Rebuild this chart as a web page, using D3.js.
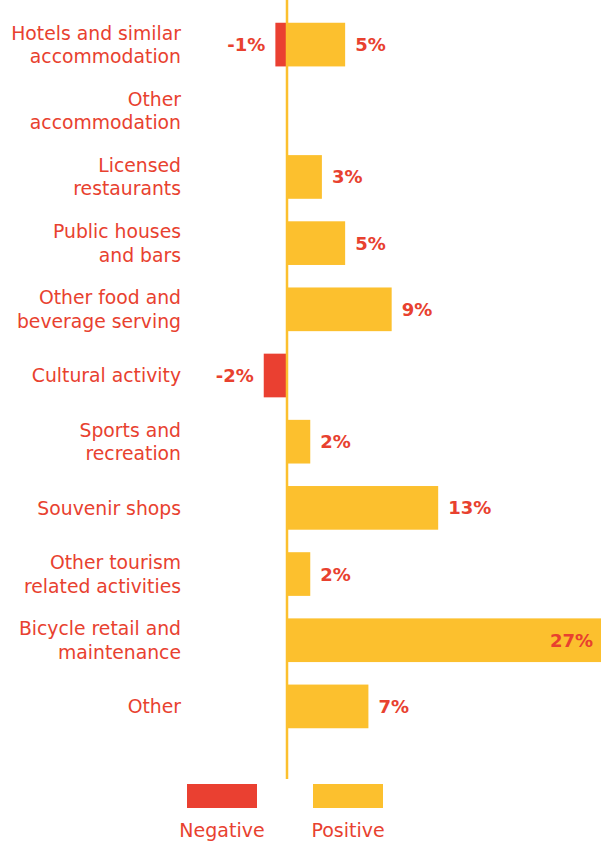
<!DOCTYPE html>
<html>
<head>
<meta charset="utf-8">
<script src="https://cdn.jsdelivr.net/npm/d3@7"></script>
<style>
  html, body { margin: 0; padding: 0; background: #fff; }
  svg { display: block; }
  text { font-family: "DejaVu Sans", sans-serif; }
</style>
</head>
<body>
<svg id="chart" width="601" height="841"></svg>
<script>
// Categories (line breaks mark label wrapping)
const categories = [
  "Hotels and similar\naccommodation",
  "Other\naccommodation",
  "Licensed\nrestaurants",
  "Public houses\nand bars",
  "Other food and\nbeverage serving",
  "Cultural activity",
  "Sports and\nrecreation",
  "Souvenir shops",
  "Other tourism\nrelated activities",
  "Bicycle retail and\nmaintenance",
  "Other"
];
// Share of businesses reporting a negative / positive change (%)
const negativeValues = [-1, null, null, null, null, -2, null, null, null, null, null];
const positiveValues = [5, null, 3, 5, 9, null, 2, 13, 2, 27, 7];
const legendLabels = ["Negative", "Positive"];

const RED = "#EA4031";
const YELLOW = "#FCC02E";
const TEXT = "#E8412F";

const svg = d3.select("#chart");

const x = d3.scaleLinear().domain([0, 27]).range([287, 601]);
const y = d3.scaleBand()
  .domain(categories)
  .range([11.5, 739.5])
  .paddingInner(0.34)
  .paddingOuter(0.17);

// Bars
const rows = categories.map((c, i) => ({ c, neg: negativeValues[i], pos: positiveValues[i] }));

svg.append("g").selectAll("rect")
  .data(rows.filter(d => d.neg != null))
  .join("rect")
  .attr("x", d => x(d.neg))
  .attr("y", d => y(d.c))
  .attr("width", d => x(0) - x(d.neg))
  .attr("height", y.bandwidth())
  .attr("fill", RED);

svg.append("g").selectAll("rect")
  .data(rows.filter(d => d.pos != null))
  .join("rect")
  .attr("x", x(0))
  .attr("y", d => y(d.c))
  .attr("width", d => x(d.pos) - x(0))
  .attr("height", y.bandwidth())
  .attr("fill", YELLOW);

// Zero axis line
svg.append("line")
  .attr("x1", x(0)).attr("x2", x(0))
  .attr("y1", 0).attr("y2", 779)
  .attr("stroke", YELLOW)
  .attr("stroke-width", 2.5);

// Value labels
const valueFont = "bold 18px 'DejaVu Sans', sans-serif";
svg.append("g").selectAll("text")
  .data(rows.filter(d => d.neg != null))
  .join("text")
  .attr("x", d => x(d.neg) - 10)
  .attr("y", d => y(d.c) + y.bandwidth() / 2)
  .attr("dy", "0.36em")
  .attr("text-anchor", "end")
  .style("font", valueFont)
  .attr("fill", TEXT)
  .text(d => d.neg + "%");

svg.append("g").selectAll("text")
  .data(rows.filter(d => d.pos != null))
  .join("text")
  .attr("x", d => d.pos === d3.max(positiveValues) ? x(d.pos) - 8 : x(d.pos) + 10)
  .attr("y", d => y(d.c) + y.bandwidth() / 2)
  .attr("dy", "0.36em")
  .attr("text-anchor", d => d.pos === d3.max(positiveValues) ? "end" : "start")
  .style("font", valueFont)
  .attr("fill", TEXT)
  .text(d => d.pos + "%");

// Category labels
const lineH = 23.5;
const catG = svg.append("g");
categories.forEach(c => {
  const lines = c.split("\n");
  const cy = y(c) + y.bandwidth() / 2;
  const t = catG.append("text")
    .attr("x", 181)
    .attr("text-anchor", "end")
    .attr("fill", TEXT)
    .style("font-size", "18.8px");
  lines.forEach((ln, i) => {
    t.append("tspan")
      .attr("x", 181)
      .attr("y", cy + (i - (lines.length - 1) / 2) * lineH)
      .attr("dy", "0.36em")
      .text(ln);
  });
});

// Legend
const legend = svg.append("g");
const legendColors = [RED, YELLOW];
const legendX = [187, 313];
legendLabels.forEach((lab, i) => {
  legend.append("rect")
    .attr("x", legendX[i]).attr("y", 784)
    .attr("width", 70).attr("height", 24)
    .attr("fill", legendColors[i]);
  legend.append("text")
    .attr("x", legendX[i] + 35).attr("y", 837)
    .attr("text-anchor", "middle")
    .attr("fill", TEXT)
    .style("font-size", "19px")
    .text(lab);
});
</script>
</body>
</html>
